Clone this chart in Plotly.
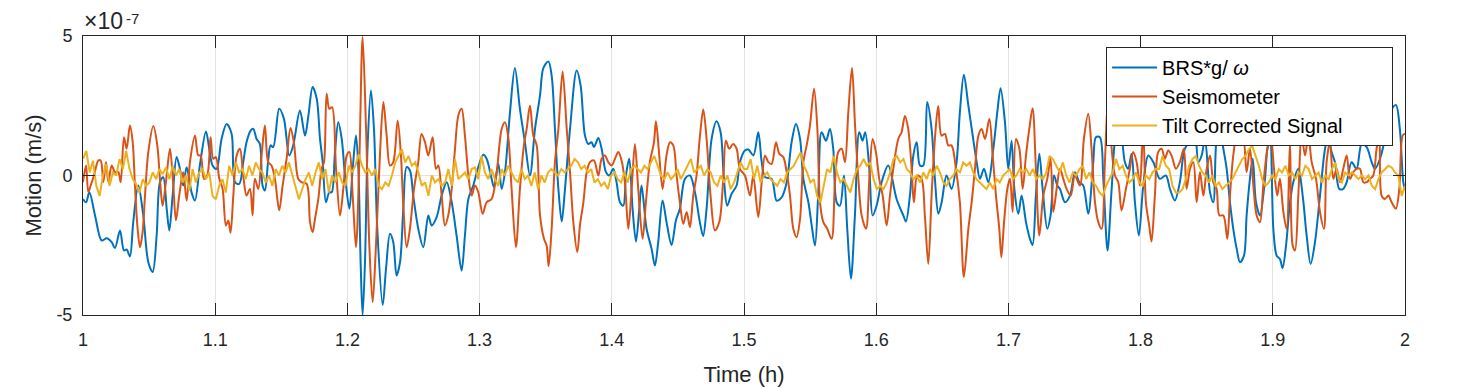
import numpy as np
import plotly.graph_objects as go

# ---- data (motion in units of 1e-7 m/s, time in hours) ----
brs_t = [
 1.0000,1.0023,1.0048,1.0091,1.0141,1.0179,1.0217,1.0242,1.0280,1.0310,
 1.0330,1.0355,1.0380,1.0418,1.0456,1.0494,1.0527,1.0557,1.0582,1.0607,
 1.0633,1.0653,1.0678,1.0708,1.0733,1.0758,1.0784,1.0821,1.0847,1.0884,
 1.0930,1.0955,1.0980,1.1010,1.1048,1.1086,1.1124,1.1150,1.1182,1.1212,
 1.1237,1.1268,1.1288,1.1313,1.1338,1.1358,1.1376,1.1401,1.1419,1.1439,
 1.1484,1.1520,1.1560,1.1590,1.1641,
 1.1679,1.1705,1.1737,1.1768,1.1793,1.1813,1.1838,1.1863,1.1881,1.1906,
 1.1931,1.1957,1.1982,1.2015,1.2040,1.2065,1.2083,1.2100,1.2115,1.2133,
 1.2153,1.2178,1.2201,1.2226,1.2267,1.2292,1.2322,1.2347,1.2372,1.2398,
 1.2423,1.2448,1.2473,1.2498,1.2536,1.2574,1.2612,1.2637,1.2675,1.2713,
 1.2751,1.2789,1.2826,1.2864,1.2889,1.2915,1.2952,1.2990,1.3028,1.3053,
 1.3091,1.3109,1.3142,1.3167,1.3192,1.3230,1.3267,1.3305,1.3343,
 1.3381,1.3419,1.3457,1.3482,1.3520,1.3545,1.3570,1.3596,1.3621,1.3646,
 1.3684,1.3734,1.3764,1.3797,1.3822,1.3847,1.3865,1.3898,1.3923,1.3956,
 1.3981,1.4011,1.4036,1.4062,1.4087,1.4107,1.4132,1.4157,1.4183,1.4208,
 1.4225,1.4263,1.4301,1.4326,1.4351,1.4384,1.4414,1.4452,1.4485,1.4515,
 1.4553,1.4591,1.4629,1.4666,1.4691,1.4717,1.4755,1.4792,1.4823,1.4848,
 1.4873,1.4906,1.4944,1.4969,1.5007,
 1.5033,1.5071,1.5108,1.5134,1.5159,1.5209,1.5247,1.5285,1.5323,1.5360,
 1.5393,1.5424,1.5449,1.5487,1.5512,1.5537,1.5562,1.5587,1.5620,1.5650,
 1.5675,1.5701,1.5726,1.5756,1.5781,1.5809,1.5839,1.5872,1.5897,1.5917,
 1.5948,1.5973,1.6003,1.6041,1.6091,1.6154,1.6205,1.6225,1.6255,1.6281,
 1.6306,1.6331,1.6356,1.6386,1.6419,1.6444,1.6470,1.6495,1.6532,1.6570,
 1.6608,1.6633,1.6663,
 1.6697,1.6730,1.6760,1.6785,1.6815,1.6848,1.6886,1.6916,1.6941,1.6974,
 1.6999,1.7024,1.7045,1.7075,1.7100,1.7133,1.7163,1.7183,1.7208,1.7234,
 1.7259,1.7294,1.7319,1.7345,1.7370,1.7390,1.7428,1.7466,1.7503,1.7536,
 1.7566,1.7604,1.7642,1.7662,1.7692,1.7718,1.7750,1.7781,1.7818,1.7844,
 1.7881,1.7906,1.7932,1.7957,1.7987,1.8020,1.8058,1.8096,1.8146,1.8191,
 1.8222,1.8259,1.8297,1.8335,
 1.8386,1.8411,1.8437,1.8462,1.8487,1.8525,1.8550,1.8575,1.8600,1.8626,
 1.8651,1.8676,1.8701,1.8727,1.8752,1.8782,1.8802,1.8827,1.8848,1.8873,
 1.8903,1.8941,1.8959,1.8979,1.9004,1.9029,1.9054,1.9074,1.9100,1.9130,
 1.9155,1.9193,1.9226,1.9256,1.9286,1.9319,1.9357,1.9395,1.9420,1.9445,
 1.9470,1.9503,1.9533,1.9559,1.9596,1.9634,1.9672,1.9710,1.9748,1.9773,
 1.9811,1.9848,1.9886,1.9931,1.9961,1.9987,2.0000,
]
brs_v = [
 -0.84,-0.96,-0.60,-1.43,-2.33,-2.25,-2.39,-2.60,-1.97,-2.69,
 -2.65,-2.90,-1.67,-0.36,-1.43,-3.11,-3.46,-2.15,-0.24,-0.06,
 -1.19,-1.97,-0.72,0.66,0.24,-0.36,0.30,-0.60,-0.90,0.36,
 1.58,0.96,0.36,0.24,1.31,1.85,1.50,-0.24,-0.30,0.48,
 1.19,1.61,1.67,1.31,1.13,-0.36,-0.54,0.54,1.08,1.02,
 2.39,2.03,0.72,1.08,2.33,
 1.43,2.15,3.17,2.75,1.31,0.48,-0.96,-0.60,-0.60,0.84,
 1.91,1.31,0.00,-1.19,0.24,1.43,0.24,-3.11,-5.00,-3.11,
 1.08,3.05,1.67,-1.91,-4.64,-3.35,-2.09,-2.39,-3.58,-3.11,
 -1.19,0.30,0.18,-0.72,-1.91,-2.57,-1.43,-1.79,-1.49,-0.72,
 -0.24,-0.96,-2.15,-3.41,-2.15,-0.84,-0.36,0.30,0.74,0.60,
 -0.12,-0.42,0.42,-0.48,0.12,2.27,3.85,2.39,1.19,
 0.00,1.67,2.87,3.85,4.09,3.58,1.67,-0.48,-1.65,-0.48,
 1.67,3.76,3.23,1.43,1.13,1.19,1.02,1.34,0.96,0.12,
 0.00,0.24,-0.24,-0.96,-1.08,0.00,0.60,-1.19,-2.37,-1.19,
 -0.36,-1.91,-2.63,-3.23,-2.39,-0.90,-1.67,-2.49,-1.61,-1.19,
 -0.12,0.00,-0.60,-1.67,-2.17,-1.19,1.31,1.94,1.55,-0.12,
 -1.08,-0.66,-0.36,0.48,0.90,
 0.93,0.72,1.55,0.48,-0.06,-0.12,-0.90,-0.78,-0.24,1.19,
 1.85,1.31,-0.12,-0.96,-1.79,-2.51,-0.60,1.55,1.25,1.67,
 0.96,-0.96,-1.08,0.00,-1.91,-3.70,-1.43,1.55,1.25,1.55,
 0.24,-1.43,-1.08,-0.24,0.36,-0.84,-1.43,-1.65,-0.72,0.72,
 1.19,0.36,0.36,2.63,1.67,-0.12,-1.37,-0.96,0.00,-0.48,
 0.48,2.27,3.61,
 2.51,1.43,0.48,-0.12,0.24,-0.24,0.96,2.27,3.13,1.91,
 0.24,1.25,-0.48,-1.37,-0.72,-1.67,-2.27,-2.49,-0.72,0.78,
 -0.48,-1.91,-1.43,0.00,-0.36,-0.48,-0.96,-0.72,0.12,-0.24,
 -0.36,-1.37,0.48,1.37,1.37,-0.12,-2.69,-0.48,1.55,1.67,
 0.48,0.24,0.78,-0.96,-2.15,-0.36,0.72,0.48,-0.12,0.00,
 -0.48,-0.90,-0.24,0.96,
 1.31,1.55,0.48,0.72,1.31,-0.60,-0.96,1.31,1.67,0.96,
 0.24,-0.96,-1.91,-2.63,-3.11,-2.87,-1.43,-0.12,0.60,-0.96,
 -1.43,-0.12,0.96,1.31,-1.91,-2.87,-2.99,-3.32,-2.51,-0.96,
 -0.24,0.24,-0.72,-2.15,-3.17,-2.39,-0.72,0.96,1.43,0.84,
 0.48,-0.48,-0.48,-0.24,0.48,0.24,1.13,1.02,0.48,0.24,
 0.60,1.31,2.27,2.53,1.67,-0.24,-0.50,
]

seis_t = [
 1.0000,1.0023,1.0040,1.0058,1.0083,1.0116,1.0134,1.0154,1.0174,1.0192,
 1.0217,1.0242,1.0267,1.0285,1.0310,1.0330,1.0355,1.0376,1.0393,1.0411,
 1.0431,1.0451,1.0469,1.0494,1.0532,1.0562,1.0582,1.0602,1.0627,1.0658,
 1.0683,1.0703,1.0728,1.0758,1.0784,1.0809,1.0847,1.0872,1.0890,1.0915,
 1.0940,1.0965,1.0985,1.1005,1.1031,1.1056,1.1081,1.1099,1.1116,1.1137,
 1.1162,1.1187,1.1212,1.1237,1.1263,1.1283,1.1300,1.1326,1.1351,1.1376,
 1.1401,1.1426,1.1452,1.1484,1.1510,1.1540,1.1570,1.1595,1.1628,1.1653,
 1.1692,1.1717,1.1737,1.1755,1.1780,1.1805,1.1823,1.1843,1.1863,1.1884,
 1.1914,1.1944,1.1969,1.1995,1.2015,1.2040,1.2065,1.2090,1.2115,1.2141,
 1.2166,1.2191,1.2216,1.2246,1.2272,1.2297,1.2322,1.2347,1.2380,1.2405,
 1.2423,1.2448,1.2473,1.2504,1.2536,1.2561,1.2587,1.2612,1.2645,1.2670,
 1.2688,1.2713,1.2738,1.2763,1.2789,1.2814,1.2839,1.2864,1.2889,1.2915,
 1.2940,1.2965,1.2990,1.3023,1.3053,1.3091,1.3129,1.3167,1.3192,1.3217,
 1.3242,1.3275,1.3305,1.3335,
 1.3356,1.3381,1.3406,1.3432,1.3457,1.3487,1.3507,1.3522,1.3545,1.3570,
 1.3596,1.3628,1.3659,1.3684,1.3709,1.3739,1.3759,1.3785,1.3810,1.3835,
 1.3865,1.3898,1.3923,1.3948,1.3973,1.3999,1.4024,1.4049,1.4074,1.4099,
 1.4125,1.4150,1.4175,1.4200,1.4233,1.4258,1.4288,1.4319,1.4334,1.4359,
 1.4384,1.4414,1.4440,1.4465,1.4490,1.4515,1.4541,1.4566,1.4591,1.4616,
 1.4641,1.4667,1.4692,1.4717,1.4747,1.4780,1.4813,1.4843,1.4863,1.4888,
 1.4918,1.4944,1.4969,1.5007,
 1.5045,1.5070,1.5108,1.5134,1.5159,1.5184,1.5209,1.5242,1.5267,1.5297,
 1.5323,1.5348,1.5373,1.5398,1.5424,1.5449,1.5474,1.5499,1.5530,1.5555,
 1.5575,1.5600,1.5630,1.5663,1.5688,1.5713,1.5739,1.5764,1.5789,1.5817,
 1.5840,1.5865,1.5890,1.5923,1.5948,1.5973,1.5998,1.6023,1.6049,1.6079,
 1.6104,1.6129,1.6167,1.6192,1.6217,1.6242,1.6268,1.6285,1.6311,1.6343,
 1.6368,1.6394,1.6419,1.6444,1.6469,1.6494,1.6520,1.6545,1.6570,1.6603,
 1.6633,1.6663,
 1.6697,1.6722,1.6747,1.6773,1.6798,1.6823,1.6856,1.6881,1.6906,1.6931,
 1.6947,1.6967,1.6992,1.7012,1.7032,1.7057,1.7083,1.7108,1.7133,1.7158,
 1.7183,1.7208,1.7234,1.7264,1.7294,1.7319,1.7339,1.7365,1.7390,1.7415,
 1.7440,1.7471,1.7503,1.7541,1.7571,1.7604,1.7629,1.7655,1.7680,1.7705,
 1.7730,1.7755,1.7781,1.7806,1.7831,1.7856,1.7889,1.7919,1.7944,1.7970,
 1.7995,1.8020,1.8040,1.8065,1.8083,1.8108,1.8133,1.8159,1.8184,1.8209,
 1.8234,1.8267,1.8297,1.8327,
 1.8348,1.8374,1.8399,1.8424,1.8449,1.8475,1.8500,1.8525,1.8550,1.8575,
 1.8596,1.8626,1.8656,1.8676,1.8701,1.8727,1.8752,1.8777,1.8802,1.8827,
 1.8853,1.8878,1.8903,1.8928,1.8959,1.8984,1.9009,1.9034,1.9054,1.9080,
 1.9105,1.9130,1.9150,1.9168,1.9193,1.9218,1.9244,1.9269,1.9294,1.9327,
 1.9357,1.9387,1.9407,1.9432,1.9458,1.9483,1.9508,1.9533,1.9559,1.9584,
 1.9609,1.9634,1.9659,1.9685,1.9710,1.9735,1.9760,1.9785,1.9806,1.9823,
 1.9848,1.9874,1.9899,1.9931,1.9957,1.9982,2.0000,
]
seis_v = [
 -0.24,0.36,-0.60,-0.36,0.00,0.54,0.54,-0.24,0.48,-0.24,
 0.36,0.12,0.12,-0.24,1.37,0.96,1.79,1.19,-0.36,-1.79,
 -2.57,-2.03,-0.72,0.84,1.77,1.08,-0.12,-1.08,-0.24,0.96,
 -0.36,-1.61,-0.72,0.12,-0.90,0.48,1.43,0.72,0.72,-0.12,
 0.00,1.37,0.60,0.66,-0.12,-0.48,-1.79,-1.61,-2.05,-0.72,
 0.72,0.96,0.00,-0.72,-0.48,-1.43,-0.12,-0.48,0.72,1.79,
 0.48,0.36,-0.12,-1.25,-0.36,0.60,1.70,1.19,-0.12,-0.24,
 -0.30,-1.67,-2.03,-1.55,-0.84,0.24,0.48,2.93,2.39,2.45,
 0.24,-1.43,-0.48,0.72,0.84,-0.72,-2.57,0.48,4.96,1.67,
 -2.51,-4.54,-2.51,0.72,2.63,1.43,0.36,0.48,1.97,0.72,
 -1.08,-2.57,-1.91,-0.48,0.48,1.49,1.19,0.72,1.37,0.24,
 0.36,-0.72,-1.79,-1.43,-0.48,0.96,2.15,2.39,1.43,0.00,
 -0.72,-0.36,-0.60,-1.37,-0.96,-0.84,0.12,1.67,1.91,1.37,
 -0.48,-2.57,-0.48,1.08,
 1.67,2.51,1.43,1.08,-1.43,-2.27,-2.51,-3.25,-1.91,0.48,
 1.67,3.73,1.67,0.12,-1.67,-2.75,-1.79,-0.96,0.12,0.48,
 0.54,0.00,0.60,0.72,0.48,0.36,0.60,0.84,0.54,-0.24,
 -1.91,-0.48,1.13,-0.48,-2.27,-0.96,0.48,1.19,1.94,0.72,
 -0.48,0.72,1.19,1.08,0.00,-0.96,-1.73,-1.31,-1.85,-0.72,
 0.00,1.43,2.37,1.31,-0.72,-1.97,-1.67,-0.12,1.25,0.96,
 1.13,0.96,0.24,0.00,
 -0.72,0.00,-1.49,-0.24,0.72,0.48,0.42,1.19,0.78,0.66,
 0.12,-0.72,-1.91,-2.21,-1.55,0.48,1.08,1.79,3.11,1.67,
 -0.96,-1.67,-1.91,-2.27,-0.24,0.84,0.96,0.48,2.27,3.85,
 1.79,-0.12,-1.43,-1.91,-0.12,1.31,0.84,-0.12,-0.72,-1.79,
 -0.72,0.24,1.31,1.55,2.13,1.67,0.24,-0.96,0.00,-0.12,
 -1.43,-3.17,-0.72,1.31,2.49,1.43,1.49,1.08,1.08,0.24,
 -0.96,-3.64,
 -1.91,-0.96,0.24,1.43,1.67,1.31,2.03,0.72,-0.72,-1.91,
 -2.93,-1.67,-0.48,-0.12,-1.31,1.31,0.96,-0.48,0.72,1.67,
 2.41,0.24,-2.15,-0.72,-0.12,0.60,-1.31,-0.48,0.24,-0.12,
 -0.48,-0.72,0.00,-0.36,1.31,2.21,0.96,-0.96,-1.67,-1.91,
 0.48,2.87,0.96,0.00,-0.24,-1.25,-0.48,0.24,0.84,0.48,
 -0.36,1.67,-0.96,-1.79,-2.37,-0.72,0.84,0.96,0.60,0.90,
 0.72,0.24,0.48,0.96,
 -0.48,0.24,0.48,-0.96,0.12,-0.72,0.24,0.72,-0.24,-0.48,
 -1.43,-1.43,-2.27,-0.72,0.72,1.43,1.08,1.31,0.12,0.96,
 -0.36,-1.43,-1.67,-0.36,0.96,1.43,0.24,-0.72,-0.12,-1.31,
 -1.91,1.20,-2.51,-2.69,-0.72,1.43,0.72,1.43,0.48,-0.12,
 -1.31,-1.91,0.48,1.19,-0.12,0.24,-0.24,0.24,0.72,-0.12,
 0.12,0.24,0.24,-0.24,-0.24,-0.12,0.00,0.96,1.43,-0.72,
 -0.84,-0.72,-0.96,-1.19,-0.48,1.43,1.50,
]

tilt_v = [
 0.60,0.88,0.11,0.53,-0.37,-0.73,0.00,0.41,-0.37,0.11,
 0.00,0.59,0.23,0.88,0.23,-0.13,-0.31,-0.61,-0.13,-0.37,
 -0.25,0.11,-0.13,0.23,0.05,0.29,-0.13,0.35,0.00,0.23,
 -0.25,0.00,-0.55,0.23,-0.25,0.11,0.23,-0.13,0.11,-0.73,
 -0.85,-0.37,-0.13,-0.61,0.35,0.00,0.47,0.11,0.23,-0.13,
 0.35,0.00,0.47,0.23,0.11,-0.25,0.00,-0.37,0.23,0.00,
 0.35,0.11,0.47,0.00,-0.37,-0.85,-0.49,-0.13,0.11,-0.37,
 0.11,0.47,-0.13,0.23,-0.61,0.00,-0.25,0.11,-0.25,-0.37,
 0.35,0.11,0.35,0.76,0.35,0.11,0.23,0.00,0.23,-0.37,
 -0.49,-0.25,-0.37,0.00,0.47,0.70,0.94,0.47,0.70,0.35,
 0.47,0.11,-0.37,-0.25,-0.73,0.00,-0.25,-0.13,-0.37,-0.25,
 0.23,-0.37,0.59,-0.13,0.00,0.11,-0.13,0.23,0.29,-0.13,
 0.70,0.11,-0.13,0.23,-0.13,-0.37,0.23,0.00,0.35,0.11,
 -0.13,-0.25,0.23,-0.13,0.00,-0.37,0.11,-0.49,0.00,-0.25,
 0.11,0.23,0.11,0.00,0.23,0.11,0.23,0.35,0.59,0.47,
 0.23,0.35,0.11,0.23,-0.25,-0.13,-0.37,-0.25,-0.49,0.00,
 0.11,-0.13,-0.25,0.11,-0.25,0.23,0.35,0.23,0.11,0.35,
 0.23,0.47,0.70,0.35,0.00,-0.13,0.11,-0.13,0.00,0.23,
 -0.13,0.11,0.35,0.59,0.11,0.23,0.35,0.00,0.23,0.11,
 -0.25,-0.37,0.00,-0.25,0.00,-0.49,-0.25,0.11,0.47,0.23,
 0.23,0.59,-0.13,0.35,-0.25,0.00,0.11,-0.13,-0.25,-0.37,
 -0.13,-0.25,0.11,0.23,0.35,0.59,0.82,0.35,0.11,-0.25,
 -0.13,-0.73,-0.97,-0.37,0.23,0.11,0.70,0.11,-0.25,-0.13,
 -0.37,-0.61,-0.13,0.23,0.35,0.59,0.35,0.47,-0.13,-0.49,
 -0.37,-0.49,-0.25,0.11,0.59,0.70,0.47,0.59,0.23,0.11,
 -0.13,0.00,-0.25,0.11,-0.13,0.23,0.00,0.35,0.11,-0.25,
 -0.37,-0.13,0.00,0.23,0.11,0.47,0.35,0.47,0.11,-0.13,
 -0.25,-0.37,-0.49,-0.25,-0.49,-0.13,-0.25,0.00,0.11,0.23,
 -0.13,0.00,0.23,0.11,0.23,0.00,0.23,-0.13,0.00,-0.13,
 0.11,0.70,0.59,0.35,0.11,0.47,0.00,-0.25,0.11,0.00,
 0.23,0.35,-0.13,0.11,-0.25,-0.37,-0.61,-0.73,-0.37,-0.13,
 0.11,0.59,0.23,0.35,0.00,-0.25,-0.13,0.11,-0.25,-0.37,
 0.00,-0.13,0.11,0.23,0.23,0.70,0.35,0.23,-0.37,-0.61,
 -0.61,-0.49,-0.13,0.35,0.59,0.70,0.35,0.11,0.00,-0.25,
 0.00,-0.37,-0.25,-0.49,-0.37,-0.25,-0.13,0.11,0.35,0.59,
 0.70,0.94,1.06,0.70,0.35,-0.13,-0.37,-0.25,0.00,-0.13,
 0.23,0.11,0.35,0.00,0.11,-0.13,0.11,0.00,0.35,0.23,
 -0.13,0.00,0.11,-0.25,0.00,-0.13,0.23,0.47,-0.13,-0.25,
 0.11,0.00,0.11,0.00,-0.13,0.00,-0.13,0.00,-0.37,-0.49,
 -0.13,0.11,0.23,0.35,0.29,0.11,0.00,-0.73,-0.37,
]
tilt_t = np.linspace(1.0, 2.0, len(tilt_v))

assert len(brs_t) == len(brs_v), (len(brs_t), len(brs_v))
assert len(seis_t) == len(seis_v), (len(seis_t), len(seis_v))

x_ticks = [1, 1.1, 1.2, 1.3, 1.4, 1.5, 1.6, 1.7, 1.8, 1.9, 2]
x_labels = ["1", "1.1", "1.2", "1.3", "1.4", "1.5", "1.6", "1.7", "1.8", "1.9", "2"]
y_ticks = [-5, 0, 5]
y_labels = ["-5", "0", "5"]

FONT = "Liberation Sans, Arial, Helvetica, sans-serif"
AX = "#262626"
PAD = "\u00a0" * 8  # extra room on the right of the legend box, like the reference

fig = go.Figure()
fig.add_trace(go.Scatter(x=brs_t, y=brs_v, mode="lines", name="BRS*g/ <i>ω</i>",
                         line=dict(color="#0072BD", width=2, shape="spline", smoothing=0.9)))
fig.add_trace(go.Scatter(x=seis_t, y=seis_v, mode="lines", name="Seismometer",
                         line=dict(color="#D95319", width=2, shape="spline", smoothing=0.9)))
fig.add_trace(go.Scatter(x=tilt_t, y=tilt_v, mode="lines", name="Tilt Corrected Signal" + PAD,
                         line=dict(color="#EDB120", width=2)))

# page body has an 8px default margin: size the figure so the plot box lands
# where the reference has it
fig.update_layout(
    width=1464, height=381,
    margin=dict(l=75, r=67, t=28, b=74, autoexpand=False),
    paper_bgcolor="white", plot_bgcolor="white",
    font=dict(family=FONT, color=AX, size=18),
    showlegend=True,
    legend=dict(x=0.991, y=0.961, xanchor="right", yanchor="top",
                bgcolor="white", bordercolor=AX, borderwidth=1,
                font=dict(size=20, color="black"), itemwidth=45,
                tracegroupgap=0),
    xaxis=dict(range=[1, 2], tickvals=x_ticks, ticktext=x_labels,
               showgrid=True, gridcolor="#e3e3e3", gridwidth=1,
               zeroline=False, showline=True, linecolor=AX, linewidth=1,
               mirror="allticks", ticks="inside", ticklen=12, tickcolor=AX,
               tickfont=dict(size=18, color=AX), ticklabelstandoff=8,
               title=dict(text="Time (h)", font=dict(size=22, color=AX), standoff=18)),
    yaxis=dict(range=[-5, 5], tickvals=y_ticks, ticktext=y_labels,
               showgrid=True, gridcolor="#e3e3e3", gridwidth=1,
               zeroline=False, showline=True, linecolor=AX, linewidth=1,
               mirror="allticks", ticks="inside", ticklen=12, tickcolor=AX,
               tickfont=dict(size=18, color=AX), ticklabelstandoff=6,
               title=dict(text="Motion (m/s)", font=dict(size=22, color=AX), standoff=8)),
    annotations=[
        dict(xref="paper", yref="paper", x=0, y=1, xanchor="left", yanchor="bottom",
             text="×10", showarrow=False, font=dict(size=23, color=AX), xshift=-1, yshift=0),
        dict(xref="paper", yref="paper", x=0, y=1, xanchor="left", yanchor="bottom",
             text="-7", showarrow=False, font=dict(size=15, color=AX), xshift=41, yshift=7),
    ],
)

fig.write_html("out.html")
